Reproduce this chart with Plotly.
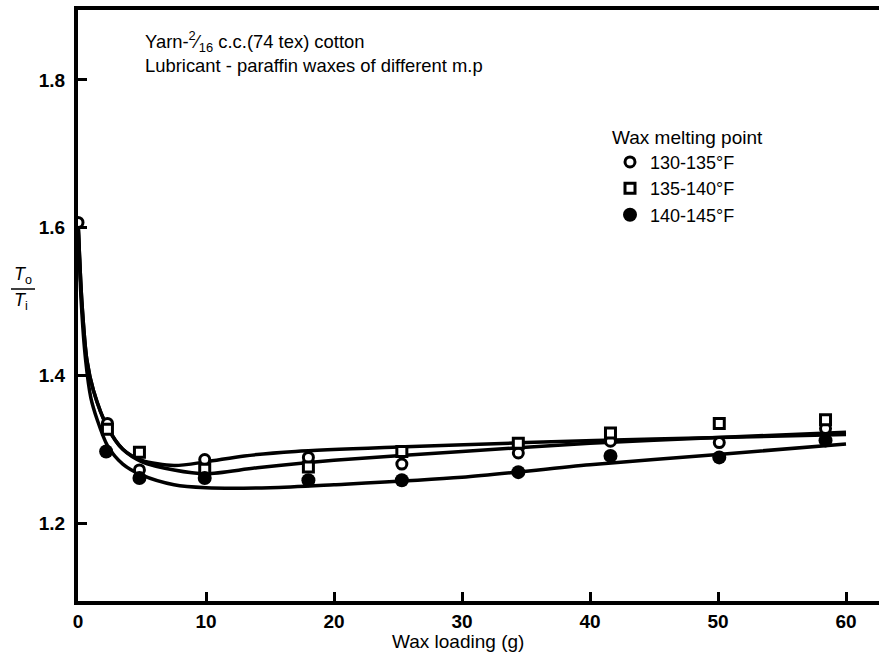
import plotly.graph_objects as go

# Measured points: output/input tension ratio vs wax loading
x_130 = [0, 2.3, 4.8, 9.9, 18, 25.3, 34.4, 41.6, 50.1, 58.4]
y_130 = [1.607, 1.335, 1.272, 1.286, 1.289, 1.280, 1.295, 1.311, 1.309, 1.328]

x_135 = [2.3, 4.8, 9.9, 18, 25.3, 34.4, 41.6, 50.1, 58.4]
y_135 = [1.327, 1.296, 1.273, 1.276, 1.297, 1.308, 1.322, 1.335, 1.340]

x_140 = [2.2, 4.8, 9.9, 18, 25.3, 34.4, 41.6, 50.1, 58.4]
y_140 = [1.297, 1.261, 1.261, 1.258, 1.258, 1.269, 1.291, 1.289, 1.312]

# Hand-drawn trend curves (knots, smoothed by the spline line shape)
cx_130 = [0, 0.3, 0.7, 1.2, 2.3, 3.5, 5, 7.5, 10, 13, 17, 25, 35, 45, 60]
cy_130 = [1.61, 1.50, 1.42, 1.38, 1.33, 1.30, 1.285, 1.278, 1.283, 1.291, 1.297, 1.303, 1.309, 1.314, 1.320]

cx_135 = [0, 0.3, 0.7, 1.2, 2.3, 3.5, 5, 7.5, 10, 14, 20, 30, 40, 50, 60]
cy_135 = [1.61, 1.50, 1.42, 1.38, 1.33, 1.30, 1.283, 1.272, 1.267, 1.275, 1.285, 1.297, 1.308, 1.316, 1.323]

cx_140 = [0, 0.25, 0.6, 1.0, 1.5, 2.3, 3.5, 5, 7.5, 10, 15, 20, 30, 40, 50, 60]
cy_140 = [1.61, 1.50, 1.42, 1.37, 1.34, 1.305, 1.28, 1.265, 1.252, 1.248, 1.248, 1.252, 1.262, 1.279, 1.293, 1.307]

x_ticks = [0, 10, 20, 30, 40, 50, 60]
y_ticks = [1.2, 1.4, 1.6, 1.8]

FONT = "Liberation Sans, Arial, sans-serif"
INK = "black"

# plot-area geometry in pixels
L, T, B, W, H = 78, 10, 601, 879, 662
PW, PH = W - L, B - T


def px_x(px):
    return (px - L) / PW


def px_y(py):
    return 1 - (py - T) / PH


fig = go.Figure()

for cx, cy in [(cx_130, cy_130), (cx_135, cy_135), (cx_140, cy_140)]:
    fig.add_trace(go.Scatter(
        x=cx, y=cy, mode="lines", showlegend=False, hoverinfo="skip",
        line=dict(color=INK, width=3.5, shape="spline", smoothing=0.8),
    ))

fig.add_trace(go.Scatter(
    x=x_130, y=y_130, mode="markers", name="130-135°F",
    marker=dict(symbol="circle", size=10, color="white",
                line=dict(color=INK, width=3)),
))
fig.add_trace(go.Scatter(
    x=x_135, y=y_135, mode="markers", name="135-140°F",
    marker=dict(symbol="square", size=10, color="white",
                line=dict(color=INK, width=3)),
))
fig.add_trace(go.Scatter(
    x=x_140, y=y_140, mode="markers", name="140-145°F",
    marker=dict(symbol="circle", size=14, color=INK,
                line=dict(color=INK, width=0)),
))

axis_common = dict(
    showgrid=False, zeroline=False, showline=True, linecolor=INK, linewidth=4,
    ticks="inside", ticklen=9, tickwidth=3, tickcolor=INK,
    tickfont=dict(family=FONT, size=19, color=INK, weight="bold"),
)

fig.update_xaxes(
    range=[0, (W - L) / 12.8], tickvals=x_ticks, ticktext=[str(v) for v in x_ticks],
    mirror=True, **axis_common,
)
fig.update_yaxes(
    range=[1.0946, 1.8946], tickvals=y_ticks, ticktext=[f"{v:.1f}" for v in y_ticks],
    ticklabelstandoff=5, **axis_common,
)

# Header notes
notes = [
    ("Yarn-<sup>2</sup>⁄<sub>16</sub> c.c.(74 tex) cotton", 42),
    ("Lubricant - paraffin waxes of different m.p", 65),
]
for txt, py in notes:
    fig.add_annotation(
        x=px_x(143), y=px_y(py), xref="paper", yref="paper",
        xanchor="left", yanchor="middle", showarrow=False, text=txt,
        font=dict(family=FONT, size=18.4, color=INK),
    )

# Axis titles
fig.add_annotation(
    x=px_x(458), y=px_y(641), xref="paper", yref="paper",
    xanchor="center", yanchor="middle", showarrow=False,
    text="Wax loading (g)", font=dict(family=FONT, size=19, color=INK),
)
fig.add_annotation(
    x=px_x(23), y=px_y(276), xref="paper", yref="paper",
    xanchor="center", yanchor="middle", showarrow=False,
    text="<i>T</i><sub>o</sub>", font=dict(family=FONT, size=18, color=INK),
)
fig.add_annotation(
    x=px_x(21), y=px_y(301), xref="paper", yref="paper",
    xanchor="center", yanchor="middle", showarrow=False,
    text="<i>T</i><sub>i</sub>", font=dict(family=FONT, size=18, color=INK),
)
fig.add_shape(
    type="line", xref="paper", yref="paper",
    x0=px_x(11), x1=px_x(35), y0=px_y(289), y1=px_y(289),
    line=dict(color=INK, width=1.5),
)

fig.update_layout(
    width=W, height=H,
    margin=dict(l=L, r=0, t=T, b=H - B),
    paper_bgcolor="white", plot_bgcolor="white",
    font=dict(family=FONT, color=INK),
    showlegend=True,
    legend=dict(
        x=px_x(610), y=px_y(119), xanchor="left", yanchor="top",
        bgcolor="rgba(0,0,0,0)", borderwidth=0,
        font=dict(family=FONT, size=18, color=INK),
        title=dict(text="Wax melting point", font=dict(family=FONT, size=19, color=INK)),
        tracegroupgap=0, itemsizing="trace",
    ),
)

fig.write_html("out.html")
